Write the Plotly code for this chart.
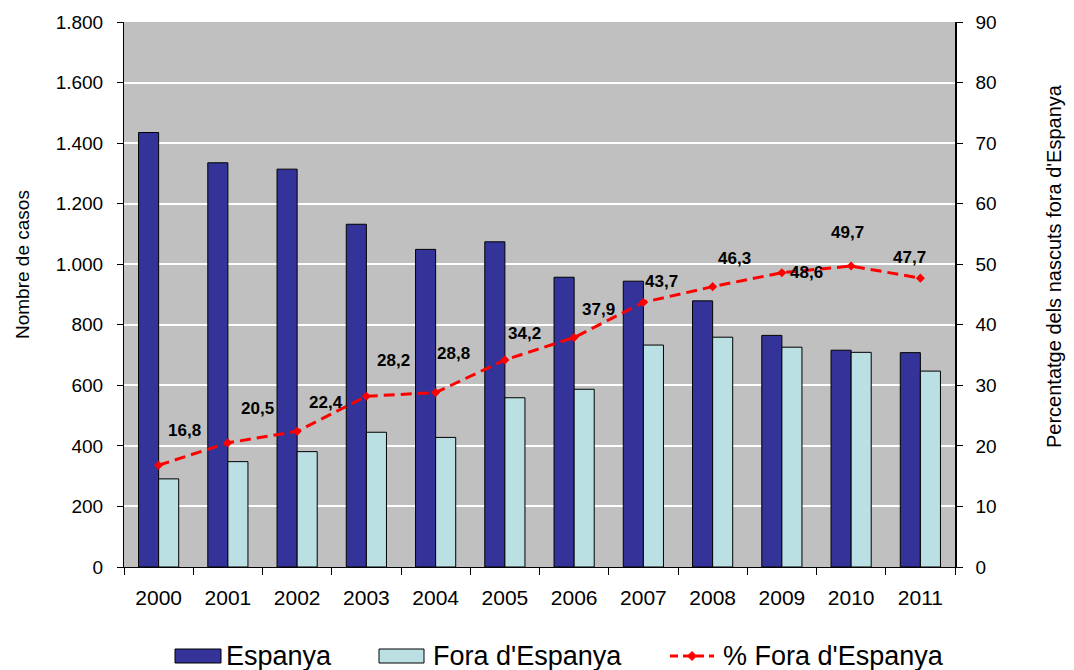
import plotly.graph_objects as go

# Births by mother's place of birth, 2000-2011
years = ["2000", "2001", "2002", "2003", "2004", "2005",
         "2006", "2007", "2008", "2009", "2010", "2011"]
espanya = [1435, 1335, 1314, 1132, 1049, 1074, 957, 944, 879, 765, 716, 708]
fora = [291, 348, 381, 445, 428, 559, 587, 733, 759, 726, 709, 647]
pct_fora = [16.8, 20.5, 22.4, 28.2, 28.8, 34.2, 37.9, 43.7, 46.3, 48.6, 49.7, 47.7]

series_names = ["Espanya", "Fora d'Espanya", "% Fora d'Espanya"]

# pixel offsets of each percentage label relative to its point
label_dx = [26, 30, 29, 27, 18, 20, 24, 18, 22, 25, -4, -11]
label_dy = [35, 34, 29, 36, 39, 26, 28, 21, 28, 0, 34, 21]

FONT = "Liberation Sans, Arial, sans-serif"
DARK = "#333399"
LIGHT = "#BBE0E3"
RED = "#FF0000"

W, H = 1074, 670
M_L, M_R, M_T, M_B = 124, 119, 22, 103
PLOT_W = W - M_L - M_R
PLOT_H = H - M_T - M_B


def px_x(px):
    """Page pixel column -> paper x."""
    return (px - M_L) / PLOT_W


def px_y(py):
    """Page pixel row -> paper y."""
    return (H - M_B - py) / PLOT_H


fig = go.Figure()
fig.add_trace(go.Bar(
    x=years, y=espanya, name=series_names[0],
    marker=dict(color=DARK, line=dict(color="#000000", width=1)),
))
fig.add_trace(go.Bar(
    x=years, y=fora, name=series_names[1],
    marker=dict(color=LIGHT, line=dict(color="#000000", width=1)),
))
fig.add_trace(go.Scatter(
    x=years, y=pct_fora, name=series_names[2], yaxis="y2",
    mode="lines+markers",
    line=dict(color=RED, width=3, dash="11px,6px"),
    marker=dict(symbol="diamond", size=7, color=RED),
))

# value labels for the percentage line (category axis: placed by index)
for i, (v, dx, dy) in enumerate(zip(pct_fora, label_dx, label_dy)):
    fig.add_annotation(
        x=i, y=v, xref="x", yref="y2", text=f"{v:.1f}".replace(".", ","),
        showarrow=False, xshift=dx, yshift=dy,
        font=dict(family=FONT, size=17, color="#000000", weight="bold"),
    )

# axis titles
fig.add_annotation(
    x=px_x(22), y=px_y(265), xref="paper", yref="paper",
    text="Nombre de casos", textangle=-90, showarrow=False,
    xanchor="center", yanchor="middle",
    font=dict(family=FONT, size=19, color="#000000"),
)
fig.add_annotation(
    x=px_x(1054), y=px_y(266), xref="paper", yref="paper",
    text="Percentatge dels nascuts fora d'Espanya", textangle=-90,
    showarrow=False, xanchor="center", yanchor="middle",
    font=dict(family=FONT, size=20, color="#000000"),
)

# legend row below the chart: wide outlined swatches, dashed line key
LEG_Y = 656
swatches = [(175, 221, DARK), (379, 424, LIGHT)]
for x0, x1, col in swatches:
    fig.add_shape(
        type="rect", xref="paper", yref="paper",
        x0=px_x(x0), x1=px_x(x1), y0=px_y(LEG_Y + 7), y1=px_y(LEG_Y - 7),
        fillcolor=col, line=dict(color="#000000", width=1),
    )
fig.add_shape(
    type="line", xref="paper", yref="paper",
    x0=px_x(670), x1=px_x(714), y0=px_y(LEG_Y), y1=px_y(LEG_Y),
    line=dict(color=RED, width=3, dash="8px,5px"),
)
cx, r = 692, 4.5
fig.add_shape(
    type="path", xref="paper", yref="paper",
    path=(f"M {px_x(cx - r)} {px_y(LEG_Y)} L {px_x(cx)} {px_y(LEG_Y - r)} "
          f"L {px_x(cx + r)} {px_y(LEG_Y)} L {px_x(cx)} {px_y(LEG_Y + r)} Z"),
    fillcolor=RED, line=dict(color=RED, width=1),
)
for name, tx in zip(series_names, [224, 431, 721]):
    fig.add_annotation(
        x=px_x(tx), y=px_y(LEG_Y), xref="paper", yref="paper",
        text=name, showarrow=False, xanchor="left", yanchor="middle",
        font=dict(family=FONT, size=27, color="#000000"),
    )

fig.update_layout(
    width=W, height=H,
    margin=dict(l=M_L, r=M_R, t=M_T, b=M_B, autoexpand=False),
    paper_bgcolor="#FFFFFF", plot_bgcolor="#C0C0C0",
    separators=",.",
    barmode="group", bargap=0.42, bargroupgap=0,
    font=dict(family=FONT, size=19, color="#000000"),
    showlegend=False,
    xaxis=dict(
        type="category", range=[-0.5, len(years) - 0.5],
        tickson="boundaries", ticks="outside", ticklen=7, tickangle=0,
        tickcolor="#000000", showline=True, linecolor="#000000", linewidth=1,
        showgrid=False, ticklabelstandoff=12, tickfont=dict(size=21),
    ),
    yaxis=dict(
        range=[0, 1800], dtick=200, tickformat=",d",
        ticks="outside", ticklen=6, tickcolor="#000000",
        showline=True, linecolor="#000000", linewidth=1,
        showgrid=True, gridcolor="#FFFFFF", gridwidth=1.5, zeroline=False,
        ticklabelstandoff=10,
    ),
    yaxis2=dict(
        range=[0, 90], dtick=10, overlaying="y", side="right",
        ticks="outside", ticklen=6, tickcolor="#000000",
        showline=True, linecolor="#000000", linewidth=1.5,
        showgrid=False, zeroline=False,
        ticklabelstandoff=9,
    ),
)

fig.write_html("out.html")
